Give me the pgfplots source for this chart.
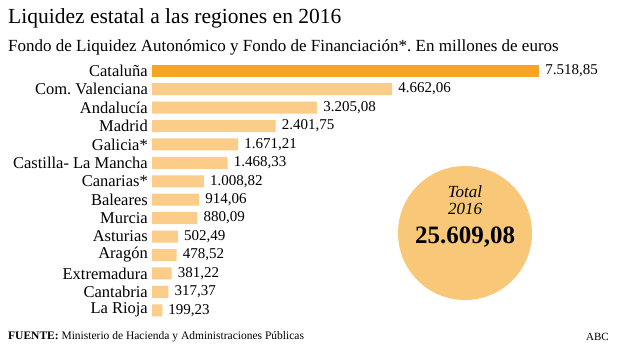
\documentclass[border=0pt]{standalone}
\usepackage{pgfplots}
\pgfplotsset{compat=1.18}
\usepackage{pgfplotstable}
\usepackage{fontspec}
\setmainfont{Liberation Serif}
\frenchspacing
\definecolor{orangeA}{HTML}{F6A623}
\definecolor{lightA}{HTML}{FBCD88}
\definecolor{circleA}{HTML}{F8C878}
\pgfplotstableread{
y val lab
0 7518.85 7.518,85
}\cat
\pgfplotstableread{
y val lab
1 4662.06 4.662,06
2 3205.08 3.205,08
3 2401.75 2.401,75
4 1671.21 1.671,21
5 1468.33 1.468,33
6 1008.82 1.008,82
7 914.06 914,06
8 880.09 880,09
9 502.49 502,49
10 478.52 478,52
11 381.22 381,22
12 317.37 317,37
13 199.23 199,23
}\others
\begin{document}
\begin{tikzpicture}[x=1pt,y=1pt]
\useasboundingbox (0,0) rectangle (620,349);
\node[anchor=west,inner sep=0,font=\fontsize{21.5}{21.5}\selectfont] at (8,331) {Liquidez estatal a las regiones en 2016};
\node[anchor=west,inner sep=0,font=\fontsize{17}{17}\selectfont] at (8,302) {Fondo de Liquidez Autonómico y Fondo de Financiación*. En millones de euros};
\begin{axis}[
  at={(152pt,287.5pt)}, anchor=north west,
  scale only axis, width=412pt, height=258pt,
  xmin=0, xmax=8000, ymin=-0.5, ymax=13.5, y dir=reverse,
  axis line style={draw=none}, major tick length=0pt,
  xtick=\empty,
  ytick={0,...,13},
  yticklabels={Cataluña,Com.\ Valenciana,Andalucía,Madrid,Galicia*,Castilla- La Mancha,Canarias*,Baleares,Murcia,Asturias,Aragón,Extremadura,Cantabria,La Rioja},
  yticklabel style={font=\fontsize{16.5}{16.5}\selectfont, inner sep=0pt, xshift=-4pt},
  xbar, bar width=12pt, bar shift=0pt,
  point meta=explicit symbolic,
  nodes near coords,
  nodes near coords style={font=\fontsize{15}{15}\selectfont, anchor=west, xshift=6pt, inner sep=0pt},
  clip=false,
]
\addplot[fill=orangeA, draw=none] table[x=val, y=y, meta=lab] {\cat};
\addplot[fill=lightA, draw=none] table[x=val, y=y, meta=lab] {\others};
\end{axis}
\fill[circleA] (465,116) circle (67);
\node[font=\itshape\fontsize{17}{17}\selectfont] at (465,157) {Total};
\node[font=\itshape\fontsize{17}{17}\selectfont] at (465,140) {2016};
\node[font=\bfseries\fontsize{25}{25}\selectfont] at (465,112) {25.609,08};
\node[anchor=west,inner sep=0,font=\fontsize{11.5}{11.5}\selectfont] at (8,12) {\textbf{FUENTE:} Ministerio de Hacienda y Administraciones Públicas};
\node[anchor=east,inner sep=0,font=\fontsize{11}{11}\selectfont] at (609,12) {ABC};
\end{tikzpicture}
\end{document}
